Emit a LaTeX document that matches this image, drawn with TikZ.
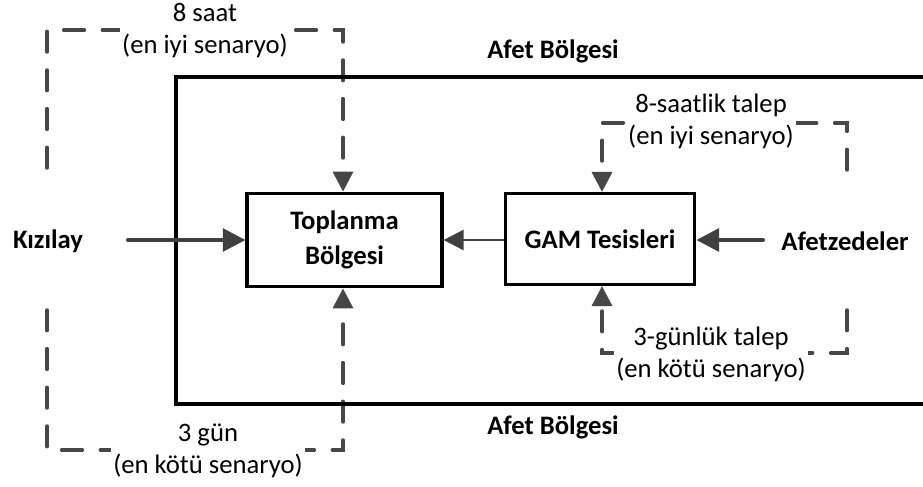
\documentclass[tikz,border=0pt]{standalone}
\usepackage{fontspec}
\setmainfont{Carlito}
\usetikzlibrary{arrows.meta}
\definecolor{arr}{HTML}{404040}
\definecolor{dsh}{HTML}{474747}
\begin{document}
\begin{tikzpicture}[x=0.75pt,y=-0.75pt,
  font=\fontsize{20}{24}\selectfont,
  box/.style={draw=black,line width=2.6pt,inner sep=0pt,align=center,font=\fontsize{20}{26}\selectfont\bfseries},
  lbl/.style={font=\fontsize{20}{24}\selectfont\bfseries,inner sep=0pt},
  mainarrow/.style={draw=arr,line width=3pt,line cap=round,-{Triangle[length=17pt,width=17pt]}},
  thinarrow/.style={draw=arr,line width=1.9pt,-{Triangle[length=15pt,width=15pt]}},
  dasharrow/.style={draw=dsh,line width=2.6pt,line cap=round,dash pattern=on 15.5pt off 13.5pt,-{Triangle[length=15pt,width=15pt]}},
  note/.style={fill=white,align=center,inner xsep=2pt,inner ysep=1pt}]
\useasboundingbox (0,0) rectangle (923,486);
\fill[white] (0,0) rectangle (923,486);

% boxes
\node[box,minimum width=146pt,minimum height=70pt] (top) at (344.5,240) {Toplanma\\Bölgesi};
\node[box,minimum width=142pt,minimum height=68pt] (gam) at (600,239) {GAM Tesisleri};

% labels
\node[lbl] (kiz) at (48,241) {Kızılay};
\node[lbl] (afz) at (845,241) {Afetzedeler};
\node[lbl] (ab1) at (553,51) {Afet Bölgesi};
\node[lbl] (ab2) at (553,427) {Afet Bölgesi};

% dashed connectors
\coordinate (lt) at (47,168);
\coordinate (lb) at (47,310);
\coordinate (rt) at (847,170);
\coordinate (rb) at (847,310);
\draw[dasharrow] (lt) -- (47,30) -- (343,30) -- (top.north -| 343,0);
\draw[dasharrow] (lb) -- (47,450) -- (343,450) -- (top.south -| 343,0);
\draw[dasharrow] (rt) -- (847,123) -- (602,123) -- (gam.north -| 602,0);
\draw[dasharrow] (rb) -- (847,353) -- (602,353) -- (gam.south -| 602,0);

% outer region
\draw[black,line width=2.6pt] (926,77) -- (176,77) -- (176,404) -- (926,404);

% solid arrows
\coordinate (ks) at (128,240);
\coordinate (as) at (763,240);
\draw[mainarrow] (ks) -- (top.west |- ks);
\draw[mainarrow] (as) -- (gam.east |- as);
\draw[thinarrow] (gam.west |- 0,240) -- (top.east |- 0,240);

% notes
\node[note] (n1) at (205,31) {8 saat\\(en iyi senaryo)};
\node[note] (n2) at (208,451) {3 gün\\(en kötü senaryo)};
\node[note] (n3) at (711,121) {8-saatlik talep\\(en iyi senaryo)};
\node[note] (n4) at (711,354) {3-günlük talep\\(en kötü senaryo)};
\end{tikzpicture}
\end{document}
